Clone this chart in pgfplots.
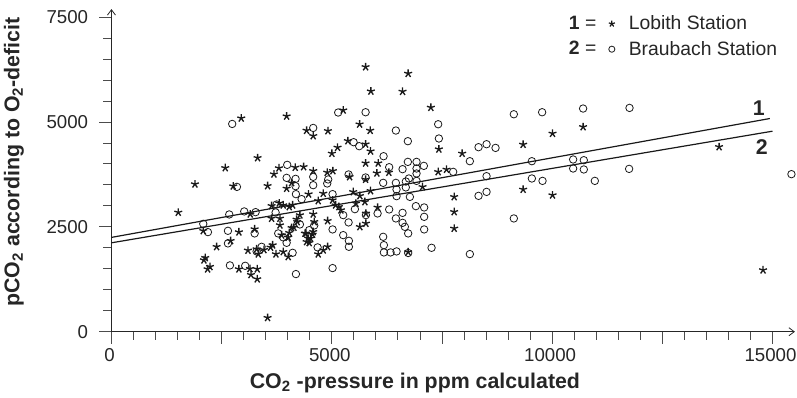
\documentclass[border=0pt]{standalone}
\usepackage{pgfplots}
\pgfplotsset{compat=1.18}
\usepackage{fontspec}
\setmainfont{Liberation Sans}
\usetikzlibrary{arrows.meta}
\begin{document}
\begin{tikzpicture}
\path[use as bounding box] (0,0) rectangle (597.75pt,298.5pt);
\begin{axis}[
  at={(83.6pt,49.7pt)}, anchor=south west,
  scale only axis, width=512.6pt, height=242pt,
  xmin=0, xmax=15510, ymin=0, ymax=7690,
  axis lines=left,
  axis line style={black!85, line width=0.6pt},
  x axis line style={-{Straight Barb[length=4pt,width=6pt]}},
  y axis line style={-{Straight Barb[length=4pt,width=6pt]}},
  scaled x ticks=false, scaled y ticks=false,
  xtick={0,2500,...,15000}, xticklabels={0,,5000,,10000,,15000},
  minor x tick num=4,
  ytick={0,2500,5000,7500}, yticklabels={0,2500,5000,7500},
  minor y tick num=4,
  tick align=outside,
  major tick length=9pt, minor tick length=6pt,
  tick style={black!70, line width=0.6pt},
  /pgf/number format/assume math mode=true,
  tick label style={font=\fontsize{14}{16}\selectfont, text=black!85},
  yticklabel style={xshift=-5pt},
  xticklabel style={xshift=-1.5pt},
  xlabel={CO\textsubscript{2} -pressure in ppm calculated},
  ylabel={pCO\textsubscript{2} according to O\textsubscript{2}-deficit},
  xlabel style={at={(axis description cs:0.444,-0.158)}, anchor=center, font=\fontsize{16}{19}\selectfont\bfseries, text=black!85},
  ylabel style={at={(axis description cs:-0.1426,0.526)}, anchor=center, font=\fontsize{16}{19}\selectfont\bfseries, text=black!85},
  legend style={at={(axis description cs:0.669,0.988)}, anchor=north west, draw=none, fill=none,
    font=\fontsize{14.5}{17}\selectfont, row sep=3pt, inner sep=0pt, text=black!85},
  legend cell align=left,
]
\addplot[only marks, mark=star, mark size=3.1pt, mark options={line width=1pt, black!90},
  legend image code/.code={\node[anchor=east, inner sep=0pt, font=\fontsize{14.5}{17}\selectfont] at (-0.15cm,0) {\textbf{1} =};
    \draw[only marks, mark=star, mark size=2.4pt, mark options={line width=0.9pt, black!90}] plot coordinates {(0.25cm,0cm)};
    \path (0.62cm,0);}]
coordinates {
(1516,2843) (1894,3517) (2582,3905) (2764,3469) (2945,5088) (3316,4143) (3543,3476) (3687,3755)
(3800,3900) (3975,5136) (2083,2405) (2098,1707) (2128,1762) (2182,1493) (2235,1548) (2386,2024)
(2704,2167) (2892,2374) (3149,2802) (3249,2445) (3634,3000) (3634,2700) (3097,1938) (3294,1969)
(3331,1850) (3460,1952) (3611,2010) (3657,2064) (3732,1850) (2892,1493) (3142,1500) (3308,1493)
(3165,1357) (3308,1255) (3543,333) (5767,6310) (6733,6153) (5887,5731) (6606,5724) (5259,5279)
(5631,4945) (5871,4795) (4428,4795) (4578,4667) (4912,4786) (5365,4548) (5767,4469) (5131,4391)
(5002,4248) (5880,4303) (5767,4017) (6053,4017) (6295,3795) (6023,3779) (4170,3914) (4360,3929)
(4578,3833) (4896,3795) (5025,3833) (5404,3691) (5767,3629) (4088,3548) (3975,3414) (4473,3279)
(4806,3295) (5486,3333) (5637,3238) (5880,3357) (4692,3119) (3807,3064) (3898,3017) (4034,2976)
(4111,3017) (5018,3136) (5086,3017) (5161,2976) (5206,2898) (5547,3057) (5751,3095) (5774,2819)
(6039,2962) (4276,2779) (4201,2676) (3823,2700) (3823,2540) (4578,2802) (4601,2619) (4905,2643)
(5637,2500) (5774,2581) (4088,2476) (4034,2357) (4011,2248) (3861,2302) (4412,2343) (4518,2224)
(4564,2319) (4487,2119) (6733,1898) (3898,1905) (4011,1786) (4692,1850) (4806,1945) (4905,2024)
(7248,5343) (7430,4350) (7958,4248) (9342,4462) (7414,3810) (7604,3867) (7060,3452) (9342,3390)
(7777,3214) (7777,2857) (7777,2462) (10009,4724) (10703,4881) (13789,4405) (10009,3255) (14787,1469)
(4140,2486) (4215,2619) (4390,2343) (4465,2224) (4428,2143) (4578,2381)
};
\addlegendentry{Lobith Station}
\addplot[only marks, mark=o, mark size=2.8pt, mark options={line width=0.6pt, black!90},
  legend image code/.code={\node[anchor=east, inner sep=0pt, font=\fontsize{14.5}{17}\selectfont] at (-0.15cm,0) {\textbf{2} =};
    \draw[only marks, mark=o, mark size=2.3pt, mark options={line width=0.6pt, black!90}] plot coordinates {(0.25cm,0cm)};
    \path (0.62cm,0);}]
coordinates {
(2740,4952) (2847,3452) (2083,2571) (2189,2374) (2673,2795) (3013,2867) (3271,2850) (3748,3033)
(2643,2405) (3249,2343) (2643,2105) (3294,1914) (3407,2024) (2688,1581) (3035,1571) (5145,5224)
(5767,5231) (6454,4795) (4578,4857) (6726,4541) (5495,4517) (5622,4422) (6175,4183) (6302,3921)
(6606,3874) (6726,4048) (3988,3977) (4578,3691) (3975,3667) (4178,3643) (4918,3629) (5381,3748)
(5767,3676) (4178,3469) (4578,3493) (4896,3533) (6166,3548) (6454,3548) (6680,3580) (6469,3390)
(6680,3440) (5018,3279) (4186,3279) (4315,3160) (3725,2843) (5259,2779) (5524,2921) (5774,2779)
(6039,2819) (6302,2914) (6606,2833) (6470,3231) (6454,2700) (6606,2595) (6658,2500) (6733,2343)
(4276,2557) (4601,2533) (5018,2438) (5381,2605) (3784,2343) (3898,2248) (3975,2119) (4487,2421)
(5259,2302) (5388,2167) (5388,2024) (6166,2262) (6182,2064) (6182,1890) (6334,1890) (6470,1914)
(6733,1876) (4111,1881) (4678,2010) (4186,1374) (5018,1517) (9131,5183) (9773,5231) (7414,4945)
(7430,4605) (8133,4064) (8330,4398) (8512,4469) (8716,4381) (6923,4048) (6923,3890) (7089,3953)
(6923,3771) (6749,3652) (6923,3595) (6772,3214) (7754,3810) (8512,3707) (9540,4064) (9540,3652)
(8330,3238) (8512,3333) (6908,2993) (7096,2962) (7096,2738) (7096,2438) (9131,2700) (7264,2000)
(8133,1850) (10703,5319) (11756,5334) (10477,4105) (10719,4088) (10477,3890) (10719,3867) (11747,3881)
(10969,3595) (9782,3595) (15431,3755)
};
\addlegendentry{Braubach Station}
\addplot[forget plot, black!90, line width=0.9pt] coordinates {(0,2248) (14940,5081)};
\addplot[forget plot, black!90, line width=0.9pt] coordinates {(0,2119) (15000,4779)};
\node[font=\fontsize{16}{19}\selectfont\bfseries, text=black!85] at (axis cs:14689,5326) {1};
\node[font=\fontsize{16}{19}\selectfont\bfseries, text=black!85] at (axis cs:14757,4398) {2};
\end{axis}
\end{tikzpicture}
\end{document}
